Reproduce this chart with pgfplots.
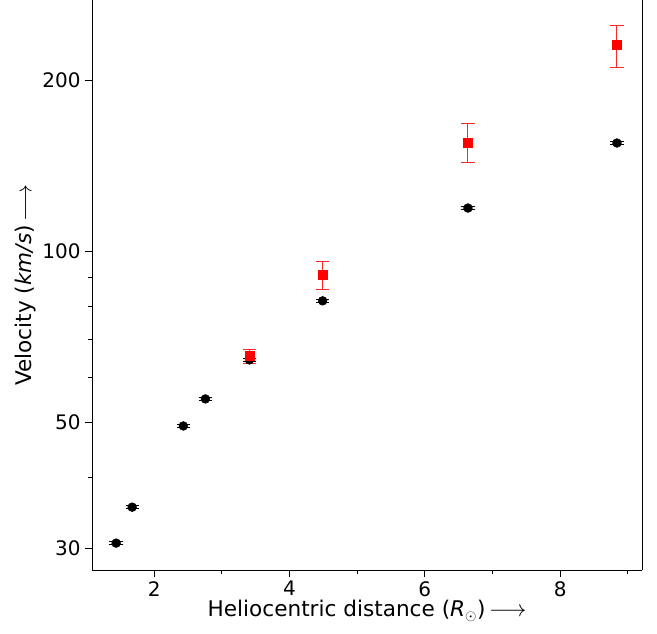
\documentclass[border=0pt]{standalone}
\usepackage{pgfplots}
\pgfplotsset{compat=1.18}
\usepackage{fontspec}
\setmainfont{DejaVu Sans}

% velocity vs distance, two data sets
\pgfplotstableread{
x     y      e
1.437 30.6   0.18
1.674 35.4   0.22
2.430 49.2   0.30
2.756 54.9   0.33
3.407 64.3   0.40
4.489 81.7   0.50
6.637 119.0  0.70
8.840 154.9  0.95
}\blackdata

\pgfplotstableread{
x     y      ep    em
3.407 65.3   1.9   1.9
4.489 90.7   5.3   5.0
6.637 155.2  12.7  11.9
8.840 230.5  19.4  19.7
}\reddata

\begin{document}
\begin{tikzpicture}[x=1pt,y=1pt]
\useasboundingbox (-69pt,-47.25pt) rectangle (423.75pt,427.5pt);
\begin{axis}[
    at={(0,0)}, anchor=south west,
    scale only axis,
    width=412.5pt, height=427.5pt,
    ymode=log,
    xmin=1.08, xmax=9.21,
    ymin=27.44, ymax=276.6,
    axis x line*=bottom, axis y line*=left,
    axis line style={line width=0.6pt, -},
    xtick={2,4,6,8},
    minor xtick={3,5,7,9},
    ytick={30,50,100,200},
    yticklabels={30,50,100,200},
    minor ytick={40,60,70,80,90},
    tick align=outside,
    major tick length=5pt,
    minor tick length=3pt,
    tick style={line width=0.6pt, black},
    /pgf/number format/assume math mode=true,
    ticklabel style={font=\fontsize{15}{18}\selectfont},
    xlabel={Heliocentric distance (\textit{R}$_\odot$)\,$\longrightarrow$},
    ylabel={Velocity (\textit{km/s})\,$\longrightarrow$},
    label style={font=\fontsize{16.2}{19}\selectfont},
    xlabel style={yshift=4pt},
    ylabel style={yshift=-2pt},
    clip=false,
]
\addplot[only marks, mark=*, mark size=3.3pt, black,
    error bars/.cd, y dir=both, y explicit,
    error bar style={line width=0.75pt, black},
    error mark options={rotate=90, mark size=5pt, line width=0.75pt, black}]
    table[x=x, y=y, y error=e] {\blackdata};
\addplot[only marks, mark=square*, mark size=3.3pt, red,
    error bars/.cd, y dir=both, y explicit,
    error bar style={line width=0.75pt, red!85!white},
    error mark options={rotate=90, mark size=5pt, line width=0.75pt, red!85!white}]
    table[x=x, y=y, y error plus=ep, y error minus=em] {\reddata};
\draw[line width=0.6pt] (rel axis cs:1,0) -- (rel axis cs:1,1);
\end{axis}
\end{tikzpicture}
\end{document}
